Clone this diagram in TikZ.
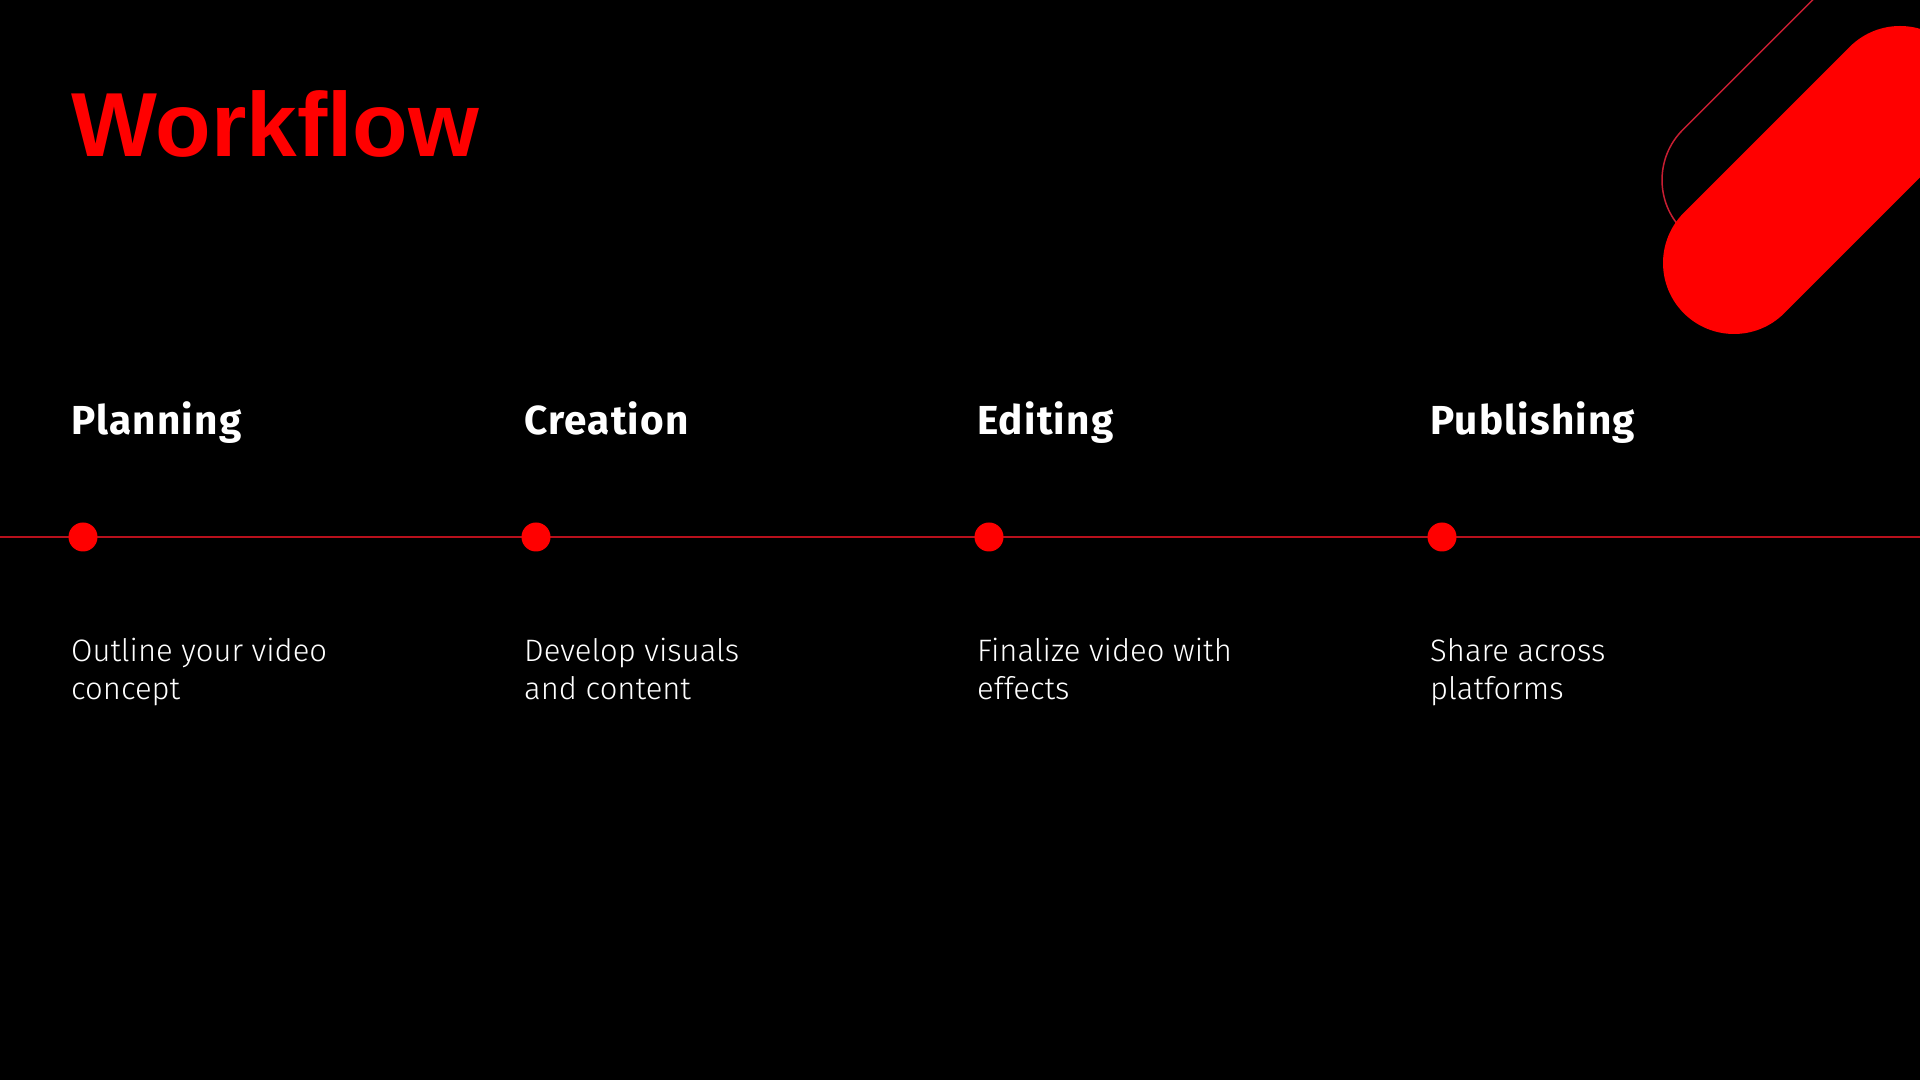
\documentclass[tikz,border=0pt]{standalone}
\usepackage{fontspec}
\setmainfont{Fira Sans}
\newfontfamily\headfont[LetterSpace=3]{Fira Sans}
\newfontfamily\bodyfont{Fira Sans Light}
\newfontfamily\titlefont{Liberation Sans}
\definecolor{brightred}{HTML}{FF0000}
\definecolor{linered}{HTML}{B8101C}
\definecolor{outlinered}{HTML}{C81E32}
\tikzset{
  heading/.style={anchor=base west, inner sep=0pt, text=white, font=\headfont\bfseries\fontsize{40.5}{48}\selectfont},
  desc/.style={anchor=base west, inner sep=0pt, text=white, font=\bodyfont\fontsize{31}{38}\selectfont},
  dot/.style={circle, fill=brightred, minimum size=29pt, inner sep=0pt},
  timeline/.style={draw=linered, line width=2pt},
}
\begin{document}
\begin{tikzpicture}[x=1pt,y=1pt]
\fill[black] (0,0) rectangle (1920,1080);
\useasboundingbox (0,0) rectangle (1920,1080);
\begin{scope}
\clip (0,0) rectangle (1920,1080);
\draw[outlinered, line width=1.5pt] (1982.8,1250.2) -- (1682.8,950.2) arc[start angle=135, end angle=315, radius=71] -- ++(300,300);
\draw[brightred, line width=142pt, line cap=round] (1734,817) -- (1900,983);
\end{scope}
\node[anchor=base west, inner sep=0pt, text=brightred, font=\titlefont\bfseries\fontsize{91}{100}\selectfont] (title) at (71,923) {Workflow};
% timeline
\coordinate (tl) at (0,543);
\coordinate (tr) at (1920,543);
\draw[timeline] (tl) -- (tr);
\foreach \hh/\la/\lb [count=\n from 0] in {Planning/Outline your video/concept, Creation/Develop visuals/and content, Editing/Finalize video with/effects, Publishing/Share across/platforms}{
  \node[heading] (h\n) at (71+453*\n,645) {\hh};
  \node[dot] (d\n) at (83+453*\n,543) {};
  \node[desc] (a\n) at (71+453*\n,418) {\la};
  \node[desc] (b\n) at (71+453*\n,380) {\lb};
}
\end{tikzpicture}
\end{document}
